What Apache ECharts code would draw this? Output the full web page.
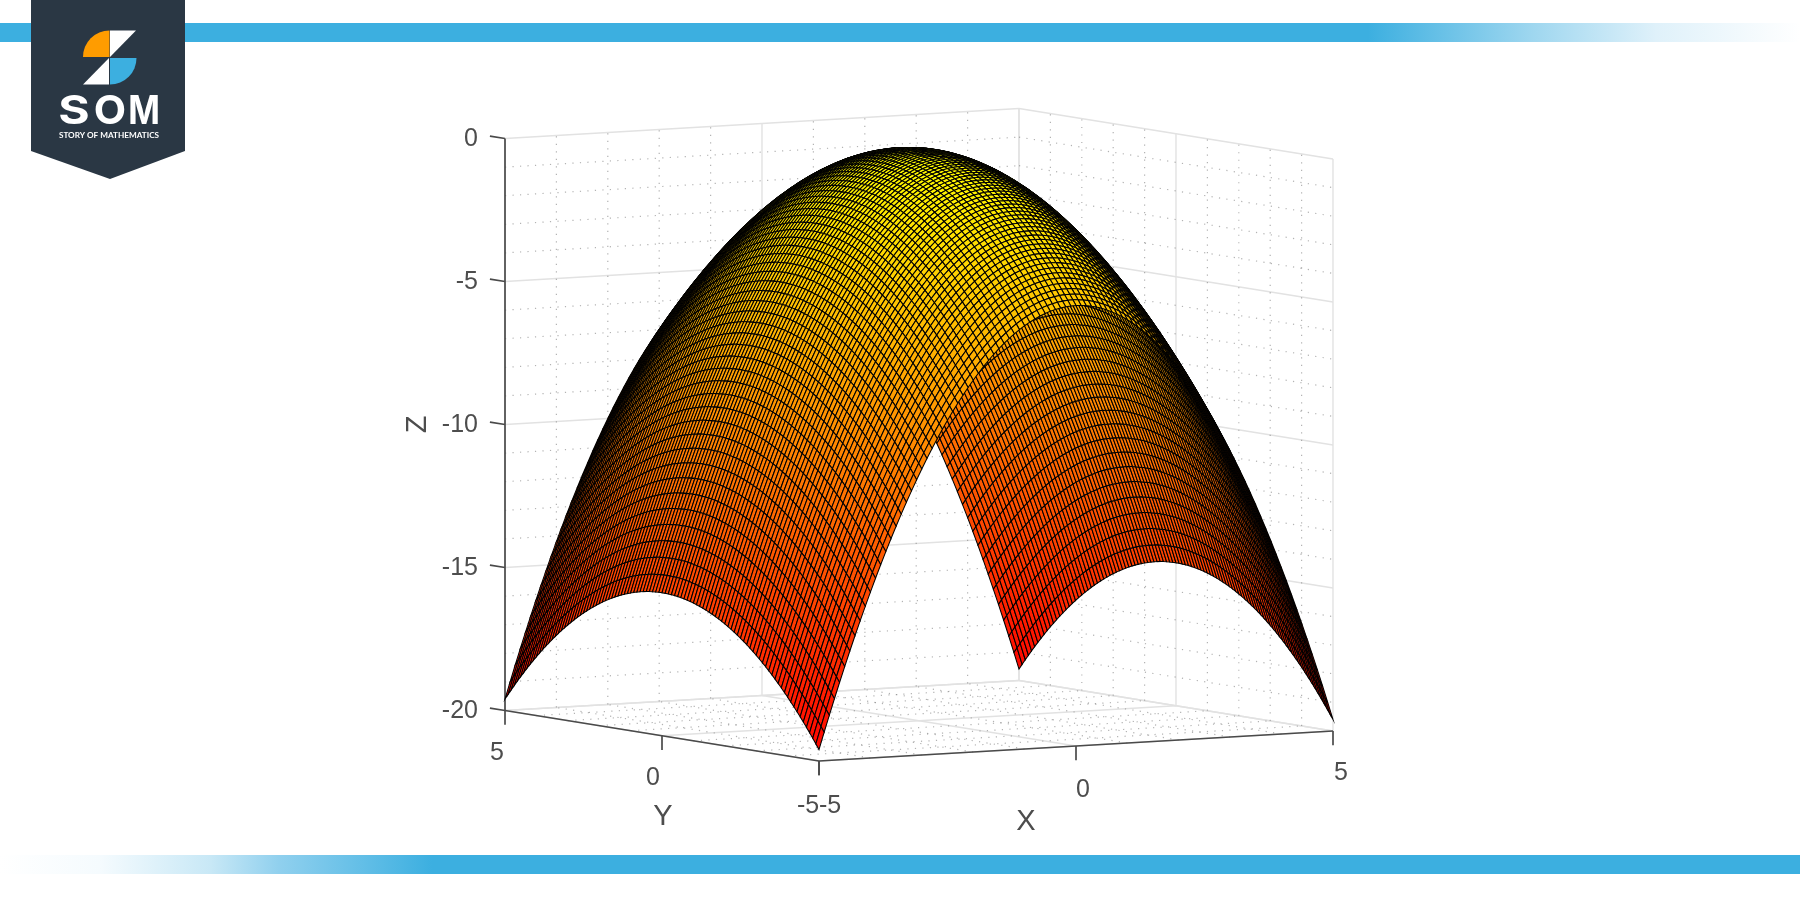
<!DOCTYPE html>
<html>
<head>
<meta charset="utf-8">
<script src="https://cdn.jsdelivr.net/npm/echarts@6/dist/echarts.min.js"></script>
<style>html,body{margin:0;padding:0;background:#fff}#c{width:1800px;height:900px}</style>
</head>
<body>
<div id="c"></div>
<script>
// ---- data ----
const gridRadii = [0,0.1,0.2,0.3,0.4,0.5,0.6,0.7,0.8,0.9,1,1.1,1.2,1.3,1.4,1.5,1.6,1.7,1.8,1.9,2,2.1,2.2,2.3,2.4,2.5,2.6,2.7,2.8,2.9,3,3.1,3.2,3.3,3.4,3.5,3.6,3.7,3.8,3.9,4,4.1,4.2,4.3,4.4,4.5,4.6,4.7,4.8,4.9,5];
const dropAlongX = [0,.006,.024,.054,.096,.15,.216,.294,.384,.486,.6,.726,.864,1.014,1.176,1.35,1.536,1.734,1.944,2.166,2.4,2.646,2.904,3.174,3.456,3.75,4.056,4.374,4.704,5.046,5.4,5.766,6.144,6.534,6.936,7.35,7.776,8.214,8.664,9.126,9.6,10.086,10.584,11.094,11.616,12.15,12.696,13.254,13.824,14.406,15.0];
const dropAlongY = [0,.002,.007,.017,.029,.046,.066,.090,.118,.149,.184,.223,.265,.311,.361,.414,.471,.532,.596,.664,.736,.811,.891,.973,1.060,1.150,1.244,1.341,1.443,1.547,1.656,1.768,1.884,2.004,2.127,2.254,2.385,2.519,2.657,2.799,2.944,3.093,3.246,3.402,3.562,3.726,3.893,4.065,4.239,4.418,4.600];
const xMajorTicks = [-5,0,5];
const yMajorTicks = [-5,0,5];
const zMajorTicks = [-20,-15,-10,-5,0];
const xMinorTicks = [-4,-3,-2,-1,1,2,3,4];
const yMinorTicks = [-4,-3,-2,-1,1,2,3,4];
const zMinorTicks = [-19,-18,-17,-16,-14,-13,-12,-11,-9,-8,-7,-6,-4,-3,-2,-1];
const xTickLabels = ['-5','0','5'];
const yTickLabels = ['-5','0','5'];
const zTickLabels = ['-20','-15','-10','-5','0'];

// ---- view: orthographic projection of the 3D box on the page plane ----
const view = {ox:819, oy:761, xx:51.4, xy:-3.0, yx:-31.4, yy:-5.05, zy:-28.6};
function project(x,y,z){
  const a=x+5,b=y+5,c=z+20;
  return [view.ox+view.xx*a+view.yx*b, view.oy+view.xy*a+view.yy*b+view.zy*c];
}
function depth(x,y,z){return -0.518*x-0.85*y+0.0473*z;}

// ---- surface cells, far to near ----
const signed=[];
for(let i=gridRadii.length-1;i>0;i--) signed.push({v:-gridRadii[i],i});
for(let i=0;i<gridRadii.length;i++) signed.push({v:gridRadii[i],i});
const Z=(a,b)=>-(dropAlongX[signed[a].i]+dropAlongY[signed[b].i]);
const cells=[];
for(let a=0;a<signed.length-1;a++){
  for(let b=0;b<signed.length-1;b++){
    const x0=signed[a].v,x1=signed[a+1].v,y0=signed[b].v,y1=signed[b+1].v;
    const z00=Z(a,b),z10=Z(a+1,b),z11=Z(a+1,b+1),z01=Z(a,b+1);
    const zm=(z00+z10+z11+z01)/4;
    cells.push([x0,x1,y0,y1,z00,z10,z11,z01,zm,depth((x0+x1)/2,(y0+y1)/2,zm)]);
  }
}
cells.sort((p,q)=>p[9]-q[9]);

// ---- box, grid and axis segments ----
const soft='#e2e2e2', dots='#808080', dark='#4a4a4a';
const seg=[];
function addSeg(a,b,kind){seg.push([a[0],a[1],a[2],b[0],b[1],b[2],kind]);}
zMajorTicks.forEach(z=>{addSeg([-5,5,z],[5,5,z],0);addSeg([5,5,z],[5,-5,z],0);});
xMajorTicks.forEach(x=>{addSeg([x,5,-20],[x,5,0],0);addSeg([x,-5,-20],[x,5,-20],0);});
yMajorTicks.forEach(y=>{addSeg([5,y,-20],[5,y,0],0);addSeg([-5,y,-20],[5,y,-20],0);});
zMinorTicks.forEach(z=>{addSeg([-5,5,z],[5,5,z],1);addSeg([5,5,z],[5,-5,z],1);});
xMinorTicks.forEach(x=>{addSeg([x,5,-20],[x,5,0],1);addSeg([x,-5,-20],[x,5,-20],1);});
yMinorTicks.forEach(y=>{addSeg([5,y,-20],[5,y,0],1);addSeg([-5,y,-20],[5,y,-20],1);});
addSeg([-5,5,-20],[-5,5,0],2);
addSeg([-5,-5,-20],[-5,5,-20],2);
addSeg([-5,-5,-20],[5,-5,-20],2);
zMajorTicks.forEach(z=>addSeg([-5,5,z],[-5,5.48,z],2));
yMajorTicks.forEach(y=>addSeg([-5,y,-20],[-5,y,-20.5],2));
xMajorTicks.forEach(x=>addSeg([x,-5,-20],[x,-5,-20.5],2));

// ---- labels ----
const labels=[];
const tickFont=25, titleFont=29;
zMajorTicks.forEach((z,i)=>labels.push([-5,5,z,zTickLabels[i],-27,1,'right',tickFont,0]));
[[-8,43],[-9,42],[-11,45]].reverse().forEach((o,i)=>labels.push([-5,yMajorTicks[i],-20,yTickLabels[i],o[0],o[1],'center',tickFont,0]));
[[11,45],[7,44],[8,42]].forEach((o,i)=>labels.push([xMajorTicks[i],-5,-20,xTickLabels[i],o[0],o[1],'center',tickFont,0]));
labels.push([-5,0,-20,'Y',1,81,'center',titleFont,0]);
labels.push([0,-5,-20,'X',-50,76,'center',titleFont,0]);
labels.push([-5,5,-10,'Z',-87,0,'center',titleFont,Math.PI/2]);

const chart=echarts.init(document.getElementById('c'),null,{renderer:'canvas'});
const font='"Liberation Sans", Arial, sans-serif';
const logoFont='700 40px Inter, "Noto Sans", sans-serif';
chart.setOption({
  animation:false,
  backgroundColor:'#ffffff',
  grid:{left:0,top:0,width:1800,height:900,containLabel:false},
  xAxis:{type:'value',min:0,max:1800,show:false},
  yAxis:{type:'value',min:0,max:900,inverse:true,show:false},
  visualMap:{show:false,type:'continuous',seriesIndex:1,dimension:8,min:-20,max:0,
    inRange:{color:['#ff0000','#ffff00']}},
  graphic:[
    {type:'rect',z:1,shape:{x:0,y:23,width:1800,height:19},style:{fill:{type:'linear',x:0,y:0,x2:1,y2:0,colorStops:[
      {offset:0,color:'#3cafe0'},{offset:.76,color:'#3cafe0'},{offset:.85,color:'#9dd6ef'},{offset:.92,color:'#dff1fa'},{offset:1,color:'#ffffff'}]}}},
    {type:'rect',z:1,shape:{x:0,y:855,width:1800,height:19},style:{fill:{type:'linear',x:0,y:0,x2:1,y2:0,colorStops:[
      {offset:0,color:'#ffffff'},{offset:.0556,color:'#f5fbfe'},{offset:.117,color:'#c8e8f6'},{offset:.155,color:'#90d0ee'},{offset:.2,color:'#64bfe7'},{offset:.24,color:'#3cafe0'},{offset:1,color:'#3cafe0'}]}}},
    {type:'polygon',z:20,shape:{points:[[31,0],[185,0],[185,151],[110,179],[31,151]]},style:{fill:'#2a3744'}},
    {type:'sector',z:21,shape:{cx:109.5,cy:57,r:26.5,r0:0,startAngle:Math.PI,endAngle:Math.PI*1.5,clockwise:true},style:{fill:'#ff9c00'}},
    {type:'polygon',z:21,shape:{points:[[110,30.5],[136,30.5],[110,57]]},style:{fill:'#ffffff'}},
    {type:'polygon',z:21,shape:{points:[[109,58],[109,84.5],[83,84.5]]},style:{fill:'#ffffff'}},
    {type:'sector',z:21,shape:{cx:110,cy:58,r:26.5,r0:0,startAngle:0,endAngle:Math.PI/2,clockwise:true},style:{fill:'#3cafe0'}},
    {type:'text',z:21,x:74,y:112,scaleX:1.2,style:{x:0,y:0,text:'S',fill:'#fff',font:logoFont,textAlign:'center',textVerticalAlign:'middle'}},
    {type:'text',z:21,x:110,y:112,scaleX:1.05,style:{x:0,y:0,text:'O',fill:'#fff',font:logoFont,textAlign:'center',textVerticalAlign:'middle'}},
    {type:'text',z:21,x:144,y:112,scaleX:0.85,style:{x:0,y:0,text:'M',fill:'#fff',font:logoFont,textAlign:'center',textVerticalAlign:'middle'}},
    {type:'text',z:21,style:{x:109,y:135,text:'STORY OF MATHEMATICS',fill:'#fff',font:'700 8.2px Lato, "Noto Sans", sans-serif',textAlign:'center',textVerticalAlign:'middle'}}
  ],
  series:[
    {type:'custom',coordinateSystem:'cartesian2d',z:2,silent:true,animation:false,clip:false,data:seg,
     encode:{x:0,y:1},
     renderItem(p,api){
       const a=api.coord(project(api.value(0),api.value(1),api.value(2)));
       const b=api.coord(project(api.value(3),api.value(4),api.value(5)));
       const k=api.value(6);
       return {type:'line',shape:{x1:a[0],y1:a[1],x2:b[0],y2:b[1]},
         style:k===0?{stroke:soft,lineWidth:1.4,fill:null}:
               k===1?{stroke:dots,lineWidth:1.2,lineDash:[1.2,6.3],fill:null,opacity:.6}:
                     {stroke:dark,lineWidth:1.7,fill:null}};
     }},
    {type:'custom',coordinateSystem:'cartesian2d',z:3,silent:true,animation:false,clip:false,progressive:0,large:false,data:cells,
     encode:{x:0,y:2},
     renderItem(p,api){
       const x0=api.value(0),x1=api.value(1),y0=api.value(2),y1=api.value(3);
       const pts=[project(x0,y0,api.value(4)),project(x1,y0,api.value(5)),project(x1,y1,api.value(6)),project(x0,y1,api.value(7))].map(q=>api.coord(q));
       return {type:'polygon',shape:{points:pts},style:{fill:api.visual('color'),stroke:'#000000',lineWidth:1.05}};
     }},
    {type:'custom',coordinateSystem:'cartesian2d',z:4,silent:true,animation:false,clip:false,data:labels,
     encode:{x:0,y:1},
     renderItem(p,api){
       const d=labels[p.dataIndex];
       const c=api.coord(project(d[0],d[1],d[2]));
       return {type:'text',x:c[0]+d[4],y:c[1]+d[5],rotation:d[8],
         style:{x:0,y:0,text:d[3],fill:'#4d4d4d',font:d[7]+'px '+font,textAlign:d[6],textVerticalAlign:'middle'}};
     }}
  ]
});
</script>
</body>
</html>
